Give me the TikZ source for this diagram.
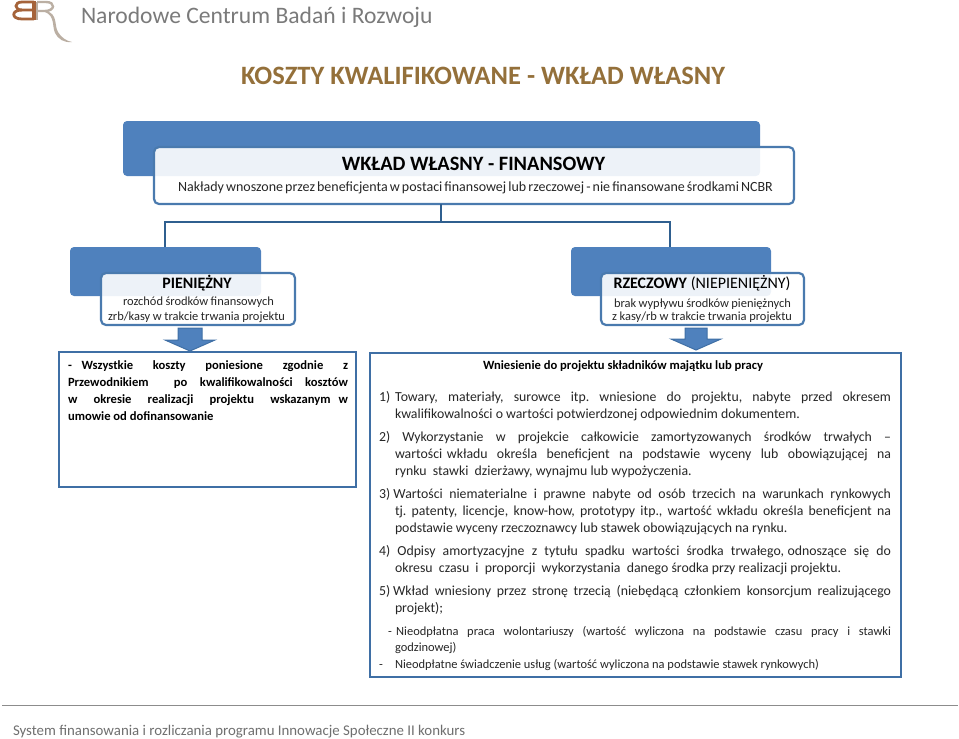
\documentclass[tikz,border=0pt]{standalone}
\usepackage{fontspec}
\setmainfont{Carlito}
\definecolor{blueA}{HTML}{4F81BD}
\definecolor{blueB}{HTML}{3F6FA5}
\definecolor{blueC}{HTML}{4A7AAE}
\definecolor{lineD}{HTML}{2F5F8F}
\definecolor{gold}{HTML}{94703A}
\definecolor{headgrey}{HTML}{7A7A7A}
\definecolor{footgrey}{HTML}{6F6F6F}
\definecolor{brownL}{HTML}{A5633A}
\definecolor{tanL}{HTML}{BBAFA3}
\newcommand{\jl}[6][]{\node[txt,#1] (#2) at (#3,#4) {\frenchspacing\makebox[#5pt][s]{#6}};}
\begin{document}
\begin{tikzpicture}[x=1pt,y=-1pt,
  txt/.style={anchor=base west,inner sep=0pt,outer sep=0pt,font=\fontsize{13.8}{14}\selectfont,text=black!85},
  sm/.style={font=\fontsize{12.45}{13}\selectfont},
  bd/.style={font=\fontsize{12.6}{13}\bfseries\selectfont,text=black},
  backbox/.style={fill=blueA,rounded corners=4pt,draw=none,outer sep=0pt},
  frontbox/.style={fill=white,fill opacity=.9,draw=blueC,draw opacity=1,line width=2.2pt,rounded corners=5pt,outer sep=0pt},
  panel/.style={fill=white,draw=blueB,line width=1.7pt,outer sep=0pt},
  conn/.style={draw=lineD,line width=1.8pt},
  downarrow/.style={fill=blueA,draw=blueB,line width=1pt}]
\useasboundingbox (0,0) rectangle (959,739);
% logo
\draw[brownL,line width=3.4pt] (34,1) -- (34,20);
\draw[brownL,line width=2.8pt] (34,2) -- (22,2) .. controls (14,2) and (14,10) .. (22,10) -- (34,10);
\draw[brownL,line width=2.8pt] (22,10) .. controls (11,10) and (11,19) .. (22,19) -- (34,19);
\draw[tanL,line width=2.4pt] (37,2) -- (46,2) .. controls (56,2) and (55,11) .. (45,11) -- (37,11);
\draw[tanL,line width=2.4pt] (37,2) -- (37,20);
\path[fill=tanL] (47,11) .. controls (58,15) and (54,25) .. (58,32) .. controls (61,37) and (66,41) .. (72,42) .. controls (64,43) and (58,39) .. (55,33) .. controls (52,26) and (55,16) .. (45,12) -- cycle;
% header
\node[txt,font=\fontsize{23.6}{24}\selectfont,text=headgrey] (head) at (81,23.5) {Narodowe Centrum Badań i Rozwoju};
\node[txt,font=\fontsize{26.5}{27}\bfseries\selectfont,text=gold] (title) at (241,84) {KOSZTY KWALIFIKOWANE - WKŁAD WŁASNY};
% top
\node[backbox,minimum width=637pt,minimum height=55pt,anchor=north west] (topback) at (123,121) {};
\node[frontbox,minimum width=640pt,minimum height=57pt,anchor=north west] (topfront) at (154,147) {};
\node[txt,anchor=base,font=\fontsize{20.4}{21}\bfseries\selectfont,text=black] (toph) at (473.5,170) {WKŁAD WŁASNY - FINANSOWY};
\jl[font=\fontsize{14}{14}\selectfont]{topt}{178}{191}{591}{Nakłady wnoszone przez beneficjenta w postaci finansowej lub rzeczowej - nie finansowane środkami NCBR}
% left
\node[backbox,minimum width=191pt,minimum height=49pt,anchor=north west] (lback) at (70,247) {};
\node[frontbox,minimum width=194pt,minimum height=52pt,anchor=north west] (lfront) at (101,273) {};
\node[txt,anchor=base,font=\fontsize{15.9}{16}\bfseries\selectfont,text=black] (lh) at (197,288) {PIENIĘŻNY};
\jl[sm]{lt1}{123}{305}{151}{rozchód środków finansowych}
\jl[sm]{lt2}{108}{320}{177}{zrb/kasy w trakcie trwania projektu}
% right
\node[backbox,minimum width=200pt,minimum height=49pt,anchor=north west] (rback) at (571,247) {};
\node[frontbox,minimum width=203pt,minimum height=52pt,anchor=north west] (rfront) at (601,273) {};
\node[txt,font=\fontsize{16}{16}\selectfont,text=black] (rh) at (613.5,288) {\textbf{RZECZOWY} (NIEPIENIĘŻNY)};
\jl[sm]{rt1}{614}{307}{177}{brak wypływu środków pieniężnych}
\jl[sm]{rt2}{612}{320}{180}{z kasy/rb w trakcie trwania projektu}
% connectors
\coordinate (bus) at (441,222);
\draw[conn] (bus |- topfront.south) -- (bus);
\draw[conn] (165,0 |- lback.north) |- (bus) -| (670,0 |- rback.north);
% arrows
\path[downarrow] (178,328) -- (202,328) -- (202,340) -- (215,340) -- (190,351) -- (165,340) -- (178,340) -- cycle;
\path[downarrow] (685,328) -- (707,328) -- (707,339) -- (721,339) -- (696,350) -- (671,339) -- (685,339) -- cycle;
% panels
\node[panel,minimum width=297pt,minimum height=135pt,anchor=north west] (lpanel) at (59,352) {};
\node[panel,minimum width=531pt,minimum height=324pt,anchor=north west] (rpanel) at (370,353) {};
% left text
\jl[bd]{a1}{68}{369}{280}{- Wszystkie\ \ koszty\ \ poniesione\ \ zgodnie\ \ z}
\jl[bd]{a2}{68}{386}{280}{Przewodnikiem\ \ po kwalifikowalności kosztów}
\jl[bd]{a3}{68}{403}{280}{w\ \ okresie\ \ realizacji\ \ projektu\ \ wskazanym w}
\node[txt,bd] (a4) at (68,420) {umowie od dofinansowanie};
% right text
\node[txt,bd] (b0) at (483,369) {Wniesienie do projektu składników majątku lub pracy};
\jl{c1}{379}{401}{512}{1) Towary,\ \ materiały,\ \ surowce\ \ itp.\ \ wniesione\ \ do\ \ projektu,\ \ nabyte\ \ przed\ \ okresem}
\node[txt] (c2) at (395,418) {kwalifikowalności o wartości potwierdzonej odpowiednim dokumentem.};
\jl{d1}{379}{441}{512}{2)\ \ Wykorzystanie\ \ w\ \ projekcie\ \ całkowicie\ \ zamortyzowanych\ \ środków\ \ trwałych\ \ –}
\jl{d2}{395}{458}{496}{wartości wkładu\ \ określa\ \ beneficjent\ \ na\ \ podstawie\ \ wyceny\ \ lub\ \ obowiązującej\ \ na}
\node[txt] (d3) at (395,475) {rynku\ \ stawki\ \ dzierżawy, wynajmu lub wypożyczenia.};
\jl{e1}{379}{498}{512}{3) Wartości\ \ niematerialne\ \ i\ \ prawne\ \ nabyte\ \ od\ \ osób\ \ trzecich\ \ na\ \ warunkach\ \ rynkowych}
\jl{e2}{395}{515}{496}{tj. patenty, licencje, know-how, prototypy itp., wartość wkładu określa beneficjent na}
\node[txt] (e3) at (395,532) {podstawie wyceny rzeczoznawcy lub stawek obowiązujących na rynku.};
\jl{f1}{379}{555}{512}{4)\ \ Odpisy\ \ amortyzacyjne\ \ z\ \ tytułu\ \ spadku\ \ wartości\ \ środka\ \ trwałego, odnoszące\ \ się\ \ do}
\node[txt] (f2) at (395,572) {okresu\ \ czasu\ \ i\ \ proporcji\ \ wykorzystania\ \ danego środka przy realizacji projektu.};
\jl{g1}{379}{595}{512}{5) Wkład\ \ wniesiony\ \ przez\ \ stronę\ \ trzecią\ \ (niebędącą\ \ członkiem\ \ konsorcjum\ \ realizującego}
\node[txt] (g2) at (395,612) {projekt);};
\jl[sm]{h1}{388}{635}{503}{- Nieodpłatna\ \ praca\ \ wolontariuszy\ \ (wartość\ \ wyliczona\ \ na\ \ podstawie\ \ czasu\ \ pracy\ \ i\ \ stawki}
\node[txt,sm] (h2) at (395,651) {godzinowej)};
\node[txt,sm] (i0) at (379,668) {-};
\node[txt,sm] (i1) at (395,668) {Nieodpłatne świadczenie usług (wartość wyliczona na podstawie stawek rynkowych)};
% footer
\coordinate (fl) at (2,705);
\coordinate (fr) at (958,705);
\draw[gray!90,line width=1pt] (fl) -- (fr);
\node[txt,font=\fontsize{14.85}{15}\selectfont,text=footgrey] (foot) at (13,735) {System finansowania i rozliczania programu Innowacje Społeczne II konkurs};
\end{tikzpicture}
\end{document}
